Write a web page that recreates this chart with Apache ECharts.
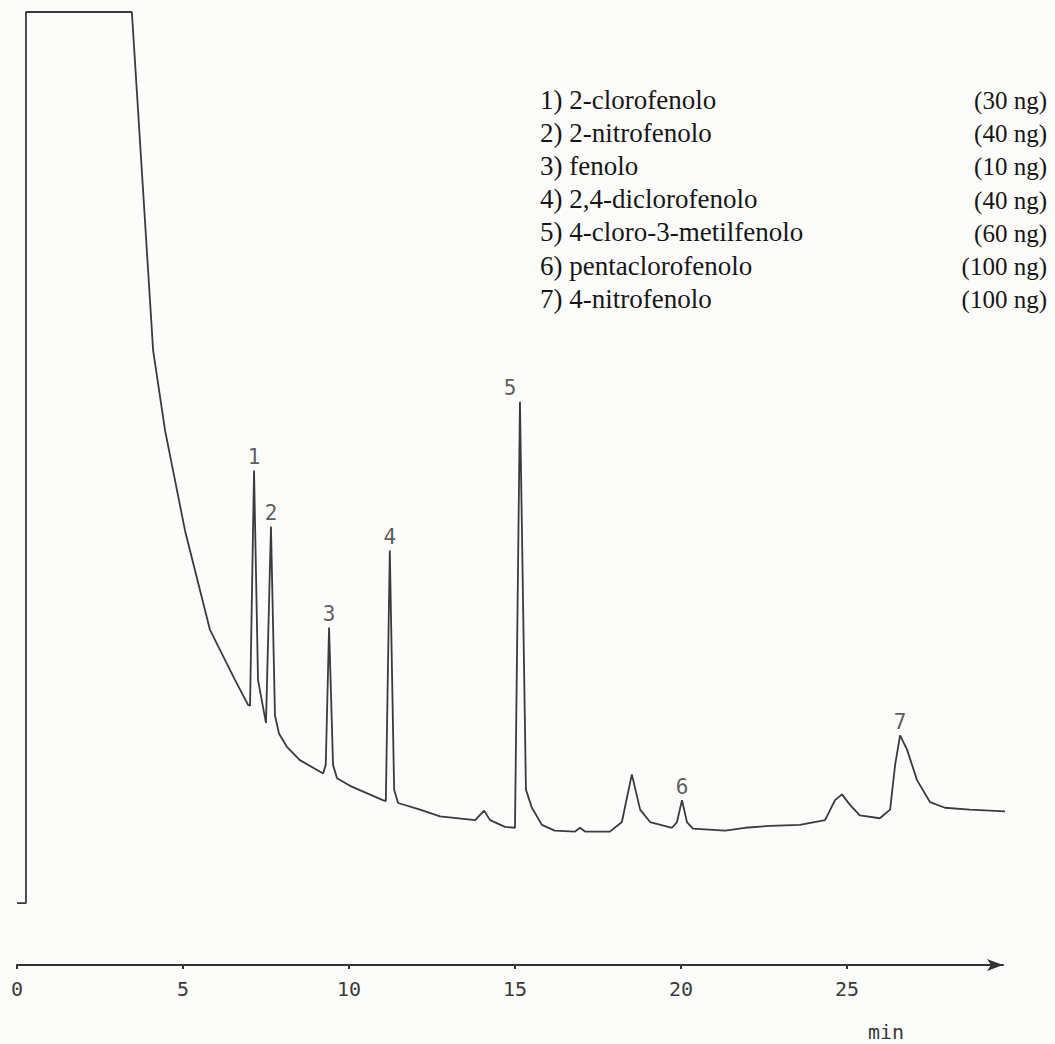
<!DOCTYPE html>
<html>
<head>
<meta charset="utf-8">
<title>Cromatogramma fenoli</title>
<script src="https://cdn.jsdelivr.net/npm/echarts@6/dist/echarts.min.js"></script>
<style>
  html, body { margin: 0; padding: 0; background: #fcfcfb; }
  #chart { width: 1055px; height: 1044px; }
</style>
</head>
<body>
<div id="chart"></div>
<script>
// tempo di ritenzione (min)
const traceTime = [
  0, 0.27, 0.27, 3.46, 4.10, 4.46, 5.06, 5.81, 6.11, 6.57, 6.96,
  7.02, 7.14, 7.26, 7.50, 7.65, 7.77, 7.89, 8.13, 8.52, 9.22,
  9.30, 9.40, 9.52, 9.64, 10.03, 11.02,
  11.11, 11.23, 11.36, 11.48, 12.14, 12.74, 13.80, 14.07, 14.25, 14.70, 15.0,
  15.15, 15.33, 15.51, 15.81, 16.20, 16.81, 16.96, 17.11, 17.86, 18.22, 18.52,
  18.77, 19.07, 19.73, 19.88, 20.03, 20.18, 20.36, 21.33, 21.93, 22.68, 23.58,
  24.34, 24.64, 24.85, 25.09, 25.39, 25.99, 26.30, 26.45, 26.60, 26.81, 27.11,
  27.50, 27.95, 28.70, 29.9
]
// segnale (unita' arbitrarie, 0-100)
const traceSignal = [
  6.5, 6.5, 100, 100, 64.5, 56.1, 45.6, 35.2, 33.1, 29.9, 27.3,
  27.2, 51.9, 29.9, 25.4, 46.0, 26.2, 24.3, 22.9, 21.5, 20.1,
  21.0, 35.4, 21.0, 19.6, 18.8, 17.3,
  17.2, 43.5, 18.4, 17.0, 16.3, 15.6, 15.2, 16.2, 15.2, 14.5, 14.4,
  59.1, 18.4, 16.5, 14.7, 14.1, 14.0, 14.4, 14.0, 14.0, 15.0, 20.0,
  16.3, 15.0, 14.4, 15.0, 17.3, 15.0, 14.3, 14.1, 14.4, 14.6, 14.7,
  15.2, 17.3, 17.9, 16.8, 15.7, 15.4, 16.3, 21.0, 24.1, 22.6, 19.4,
  17.1, 16.5, 16.3, 16.1
]

// picchi numerati
const peakNames = ['1', '2', '3', '4', '5', '6', '7']
const peakTime = [7.14, 7.65, 9.40, 11.23, 15.15, 20.03, 26.60]
const peakTop = [51.9, 46.0, 35.4, 43.5, 59.1, 17.3, 24.1]

// legenda composti
const compounds = [
  '1) 2-clorofenolo',
  '2) 2-nitrofenolo',
  '3) fenolo',
  '4) 2,4-diclorofenolo',
  '5) 4-cloro-3-metilfenolo',
  '6) pentaclorofenolo',
  '7) 4-nitrofenolo'
]
const amounts = ['(30 ng)', '(40 ng)', '(10 ng)', '(40 ng)', '(60 ng)', '(100 ng)', '(100 ng)']

const xTicks = [0, 5, 10, 15, 20, 25]

const chart = echarts.init(document.getElementById('chart'), null, { renderer: 'svg' })

const traceData = traceTime.map((t, i) => [t, traceSignal[i]])
const peakData = peakTime.map((t, i) => ({
  value: [t, peakTop[i]],
  name: peakNames[i],
  label: i === 4 ? { offset: [-10, 0] } : {}
}))

const mono = 'DejaVu Sans Mono'
const serif = 'Liberation Serif'

const graphics = []
compounds.forEach((c, i) => {
  graphics.push({
    type: 'text',
    left: 540,
    top: 86 + i * 33.2,
    style: { text: c, font: '27px "' + serif + '"', fill: '#161616' }
  })
  graphics.push({
    type: 'text',
    right: 8,
    top: 88 + i * 33.2,
    style: { text: amounts[i], font: '25px "' + serif + '"', fill: '#161616' }
  })
})
graphics.push({
  type: 'text',
  left: 868,
  top: 1022,
  style: { text: 'min', font: '20px "' + mono + '"', fill: '#3a3a3a' }
})

const option = {
  backgroundColor: '#fcfcfb',
  animation: false,
  grid: {
    left: 17,
    right: 52,
    top: 12,
    bottom: 79
  },
  xAxis: {
    type: 'value',
    min: 0,
    max: 29.7,
    interval: 5,
    splitLine: { show: false },
    axisLine: {
      lineStyle: { color: '#333', width: 2 },
      symbol: ['none', 'arrow'],
      symbolSize: [9, 16]
    },
    axisTick: {
      show: true,
      length: 4,
      lineStyle: { color: '#333', width: 2 }
    },
    axisLabel: {
      showMaxLabel: false,
      margin: 14,
      color: '#3a3a3a',
      fontFamily: mono,
      fontSize: 20,
      formatter: function (v) {
        return xTicks.indexOf(v) >= 0 ? String(v) : ''
      }
    }
  },
  yAxis: {
    type: 'value',
    min: 0,
    max: 100,
    show: false
  },
  graphic: graphics,
  series: [
    {
      type: 'line',
      data: traceData,
      showSymbol: false,
      clip: false,
      lineStyle: { color: '#3b3b3b', width: 1.8 }
    },
    {
      type: 'scatter',
      data: peakData,
      symbolSize: 0,
      label: {
        show: true,
        position: 'top',
        distance: 3,
        formatter: '{b}',
        color: '#333',
        fontFamily: mono,
        fontSize: 21
      }
    }
  ]
}

chart.setOption(option)
</script>
</body>
</html>
